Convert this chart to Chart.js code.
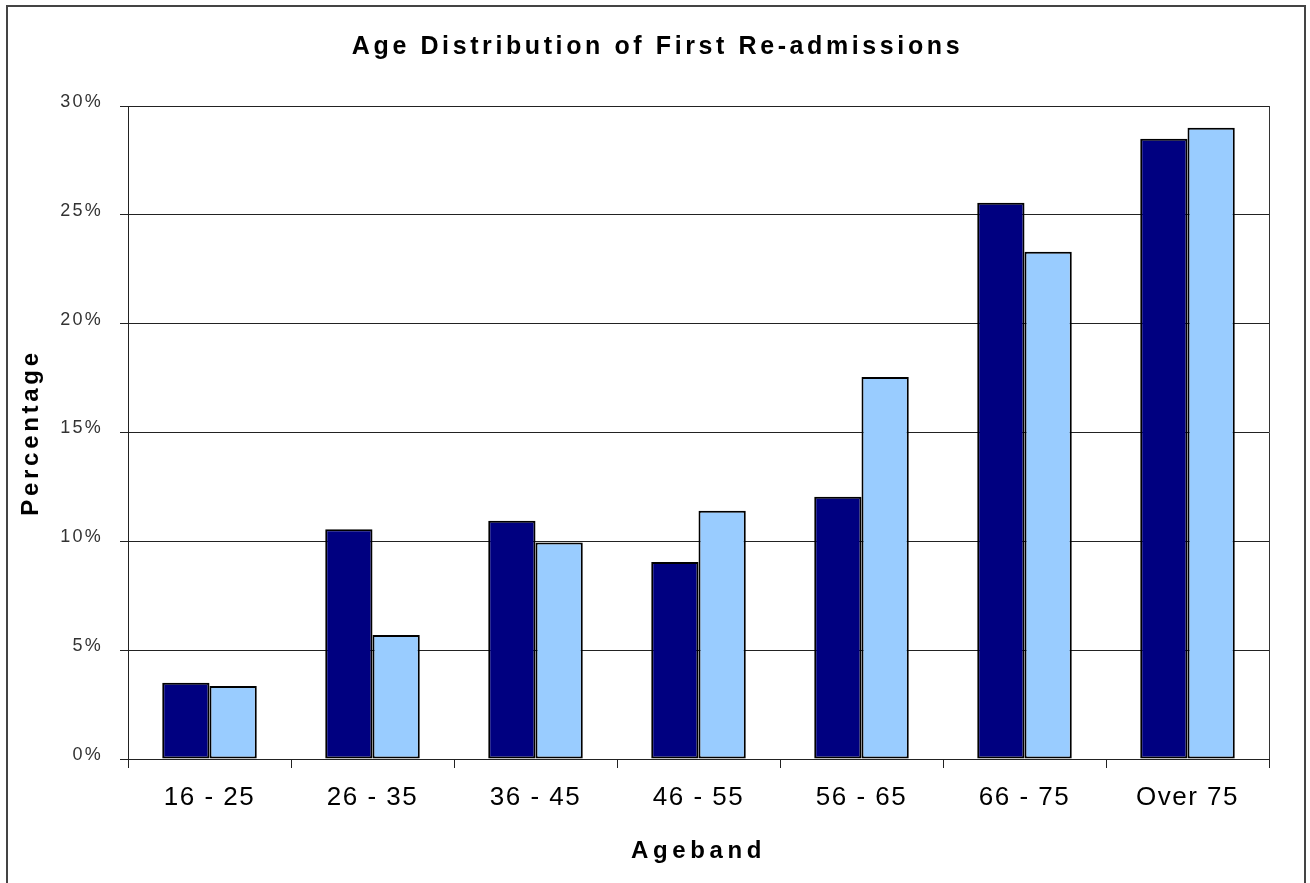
<!DOCTYPE html>
<html>
<head>
<meta charset="utf-8">
<title>Age Distribution of First Re-admissions</title>
<script src="https://cdn.jsdelivr.net/npm/chart.js@4"></script>
<style>
    body { margin: 0; background: #ffffff; }
    #wrap { position: relative; width: 1310px; height: 883px; overflow: hidden; }
    #frame {
        position: absolute; left: 6px; top: 5px; width: 1296px; height: 900px;
        border: 2px solid #444; pointer-events: none;
    }
</style>
</head>
<body>
<div id="wrap">
    <canvas id="ageChart" width="1310" height="883"></canvas>
    <div id="frame"></div>
</div>
<script>

// ================= DATA =================

const ageBands = ["16 - 25", "26 - 35", "36 - 45", "46 - 55", "56 - 65", "66 - 75", "Over 75"];

const firstReadmissions = [3.5, 10.55, 10.95, 9.05, 12.05, 25.55, 28.5];

const comparisonGroup = [3.35, 5.7, 9.95, 11.4, 17.55, 23.3, 29.0];

const percentTicks = [0, 5, 10, 15, 20, 25, 30];


// ================= HELPERS =================

// wrap a draw method so its text is spaced out like the old spreadsheet export
function spaced(obj, method, spacing, ctx) {
    if (!obj || obj["_spaced_" + method]) return;
    const original = obj[method];
    obj[method] = function (...args) {
        const old = ctx.letterSpacing;
        ctx.letterSpacing = spacing;
        original.apply(this, args);
        ctx.letterSpacing = old;
    };
    obj["_spaced_" + method] = true;
}

const letterSpacing = {
    id: "letterSpacing",
    afterLayout(chart) {
        const ctx = chart.ctx;
        spaced(chart.titleBlock, "draw", "3.6px", ctx);
        spaced(chart.scales.x, "drawLabels", "1.5px", ctx);
        spaced(chart.scales.x, "drawTitle", "4.6px", ctx);
        spaced(chart.scales.y, "drawLabels", "2.2px", ctx);
        spaced(chart.scales.y, "drawTitle", "3.7px", ctx);
    }
};

// right edge of the plot area
const plotBorder = {
    id: "plotBorder",
    beforeDatasetsDraw(chart) {
        const { ctx, chartArea } = chart;
        ctx.save();
        ctx.strokeStyle = "#333";
        ctx.lineWidth = 1;
        ctx.beginPath();
        ctx.moveTo(chartArea.right + 0.5, chartArea.top);
        ctx.lineTo(chartArea.right + 0.5, chartArea.bottom);
        ctx.stroke();
        ctx.restore();
    }
};


// ================= BAR CHART =================

Chart.defaults.font.family = "'Liberation Sans', Arial, sans-serif";
Chart.defaults.color = "#111";

const ageChart = document.getElementById("ageChart");

new Chart(ageChart, {

    type: "bar",

    data: {
        labels: ageBands,
        datasets: [
            {
                label: "First re-admissions",
                data: firstReadmissions,
                backgroundColor: "#000080",
                borderColor: "#000000",
                borderWidth: 2,
                borderSkipped: false
            },
            {
                label: "Comparison",
                data: comparisonGroup,
                backgroundColor: "#99CCFF",
                borderColor: "#000000",
                borderWidth: 2,
                borderSkipped: false
            }
        ]
    },

    options: {
        responsive: false,
        animation: false,
        devicePixelRatio: 1,
        layout: { padding: { left: 46, right: 41, top: 0, bottom: 0 } },
        datasets: {
            bar: { categoryPercentage: 0.58, barPercentage: 1.0 }
        },
        plugins: {
            legend: { display: false },
            tooltip: { enabled: false },
            title: {
                display: true,
                text: "Age Distribution of First Re-admissions",
                color: "#000",
                font: { size: 25, weight: "bold" },
                padding: { top: 32, bottom: 44 }
            }
        },
        scales: {
            x: {
                grid: {
                    display: true,
                    drawOnChartArea: false,
                    color: "#222",
                    tickLength: 9
                },
                border: { color: "#222" },
                ticks: {
                    color: "#000",
                    font: { size: 26 },
                    padding: 14
                },
                title: {
                    display: true,
                    text: "Ageband",
                    color: "#000",
                    font: { size: 24, weight: "bold" },
                    padding: { top: 0, bottom: 17 }
                },
                afterFit(scale) { scale.height = 124; }
            },
            y: {
                min: 0,
                max: 30,
                afterBuildTicks(scale) {
                    scale.ticks = percentTicks.map(v => ({ value: v }));
                },
                grid: {
                    color: "#222",
                    tickLength: 8
                },
                border: { color: "#222" },
                ticks: {
                    color: "#333",
                    font: { size: 18 },
                    padding: 17,
                    labelOffset: -4,
                    callback: v => v + "%"
                },
                title: {
                    display: true,
                    text: "Percentage",
                    color: "#000",
                    font: { size: 24, weight: "bold" },
                    padding: { top: -29, bottom: 0 }
                },
                afterFit(scale) { scale.width = 82; }
            }
        }
    },

    plugins: [letterSpacing, plotBorder]

});

</script>
</body>
</html>
